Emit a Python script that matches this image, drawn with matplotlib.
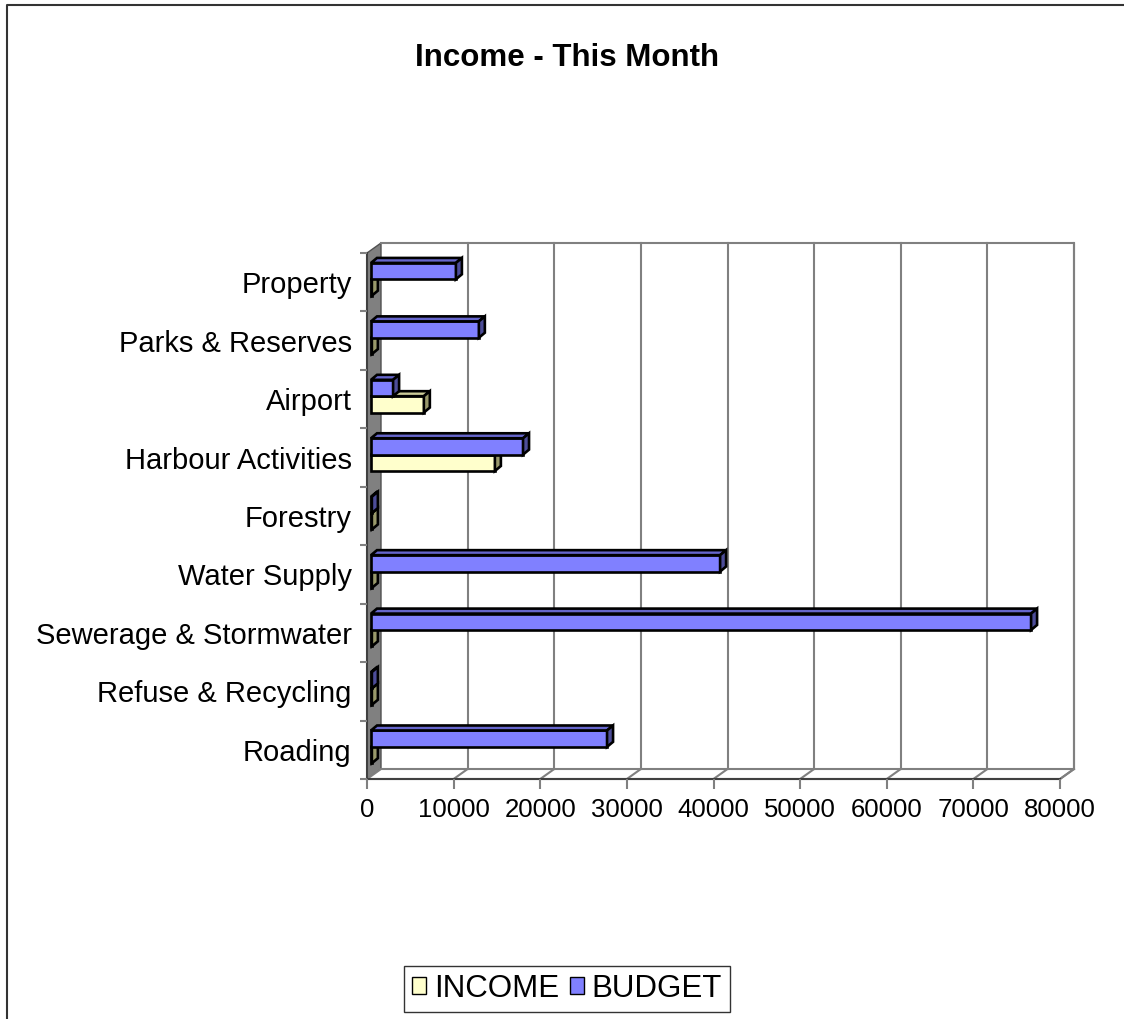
import numpy as np
import matplotlib
matplotlib.use('Agg')
import matplotlib.pyplot as plt
from matplotlib.patches import Polygon, Patch
from matplotlib.lines import Line2D

plt.rcParams['font.family'] = ['Liberation Sans', 'DejaVu Sans']

categories = ['Roading', 'Refuse & Recycling', 'Sewerage & Stormwater', 'Water Supply',
              'Forestry', 'Harbour Activities', 'Airport', 'Parks & Reserves', 'Property']
income = [100, 100, 100, 100, 100, 14300, 6100, 100, 100]
budget = [27250, 100, 76200, 40300, 100, 17550, 2550, 12450, 9800]
xticks = [0, 10000, 20000, 30000, 40000, 50000, 60000, 70000, 80000]

W, H = 1124, 1019
fig = plt.figure(figsize=(W / 100, H / 100), dpi=100)
# front plane of the 3d box, in pixels
x0, x1, y0, y1 = 367, 1060, 253, 779
ax = fig.add_axes([x0 / W, 1 - y1 / H, (x1 - x0) / W, (y1 - y0) / H])
ax.set_facecolor('none')

xmax = 80000
ymin, ymax = -0.5, len(categories) - 0.5
ax.set_xlim(0, xmax)
ax.set_ylim(ymin, ymax)

# depth of the walls and of the bars, px -> data units
px_x = xmax / (x1 - x0)
px_y = (ymax - ymin) / (y1 - y0)
DX, DY = 14 * px_x, 10 * px_y
bdx, bdy = 6 * px_x, 5 * px_y
left0 = 4 * px_x

grid_c = '#808080'

# walls and floor
ax.add_patch(Polygon([(0, ymin), (DX, ymin + DY), (DX, ymax + DY), (0, ymax)],
                     closed=True, facecolor='#808080', edgecolor='#505050', lw=1,
                     clip_on=False, zorder=0))
ax.add_patch(Polygon([(0, ymin), (xmax, ymin), (xmax + DX, ymin + DY), (DX, ymin + DY)],
                     closed=True, facecolor='white', edgecolor=grid_c, lw=1.5,
                     clip_on=False, zorder=0))
ax.plot([DX, xmax + DX, xmax + DX], [ymax + DY, ymax + DY, ymin + DY],
        color=grid_c, lw=1.5, clip_on=False, zorder=0)
for t in xticks[1:]:
    ax.plot([t + DX, t + DX], [ymin + DY, ymax + DY], color=grid_c, lw=1.5,
            clip_on=False, zorder=0)
    ax.plot([t, t + DX], [ymin, ymin + DY], color=grid_c, lw=1.5,
            clip_on=False, zorder=0)

y = np.arange(len(categories))
h = 0.28
shift = 0.05


def draw_3d(bars, top_c, side_c):
    for p in bars.patches:
        L, B = p.get_x(), p.get_y()
        Wd, Ht = p.get_width(), p.get_height()
        top = [(L, B + Ht), (L + Wd, B + Ht), (L + Wd + bdx, B + Ht + bdy), (L + bdx, B + Ht + bdy)]
        side = [(L + Wd, B), (L + Wd + bdx, B + bdy), (L + Wd + bdx, B + Ht + bdy), (L + Wd, B + Ht)]
        for pts, c in ((top, top_c), (side, side_c)):
            ax.add_patch(Polygon(pts, closed=True, facecolor=c, edgecolor='black',
                                 lw=1.9, clip_on=False, zorder=p.get_zorder()))


for i in range(len(categories) - 1, -1, -1):
    b1 = ax.barh(y[i] + shift - h / 2, income[i], height=h, left=left0,
                 color='#FFFFCC', edgecolor='black', lw=1.9, zorder=3 + 2 * (8 - i))
    draw_3d(b1, '#CCCC99', '#99996B')
    b2 = ax.barh(y[i] + shift + h / 2, budget[i], height=h, left=left0,
                 color='#8080FF', edgecolor='black', lw=1.9, zorder=4 + 2 * (8 - i))
    draw_3d(b2, '#6666CC', '#4D4D99')

for s in ['top', 'right']:
    ax.spines[s].set_visible(False)
ax.spines['left'].set_color('#404040')
ax.spines['bottom'].set_color('#404040')
ax.spines['left'].set_linewidth(1.5)
ax.spines['bottom'].set_linewidth(1.5)
ax.spines['left'].set_zorder(1)
ax.spines['bottom'].set_zorder(1)

ax.set_xticks(xticks)
ax.set_xticklabels([str(t) for t in xticks])
ax.tick_params(axis='x', direction='out', length=7, width=1.5, color='#808080',
               labelsize=18.5, pad=7)
ax.set_yticks(y)
ax.set_yticklabels(categories)
ax.set_yticks(np.arange(len(categories) + 1) - 0.5, minor=True)
ax.tick_params(axis='y', which='major', length=0, labelsize=21.0, pad=11)
ax.tick_params(axis='y', which='minor', direction='out', length=5, width=1.5, color='#808080')

fig.text(567 / W, 1 - 58 / H, 'Income - This Month', ha='center', va='center',
         fontsize=22.5, fontweight='bold')

handles = [Patch(facecolor='#FFFFCC', edgecolor='black', label='INCOME'),
           Patch(facecolor='#8080FF', edgecolor='black', label='BUDGET')]
leg = fig.legend(handles=handles, loc='center', bbox_to_anchor=(567 / W, 1 - 989 / H),
                 ncol=2, fontsize=22.5, frameon=True, fancybox=False, edgecolor='black',
                 handlelength=0.45, handleheight=0.45, handletextpad=0.25,
                 columnspacing=0.35, borderpad=0.25, borderaxespad=0)
leg.get_frame().set_linewidth(1.0)

# outer chart border (top and left only are visible)
fig.add_artist(Line2D([6.7 / W, 6.7 / W, 1], [0, 1 - 4.5 / H, 1 - 4.5 / H],
                      transform=fig.transFigure, color='#333333', lw=1.5))

fig.savefig('out.png', dpi=100)
